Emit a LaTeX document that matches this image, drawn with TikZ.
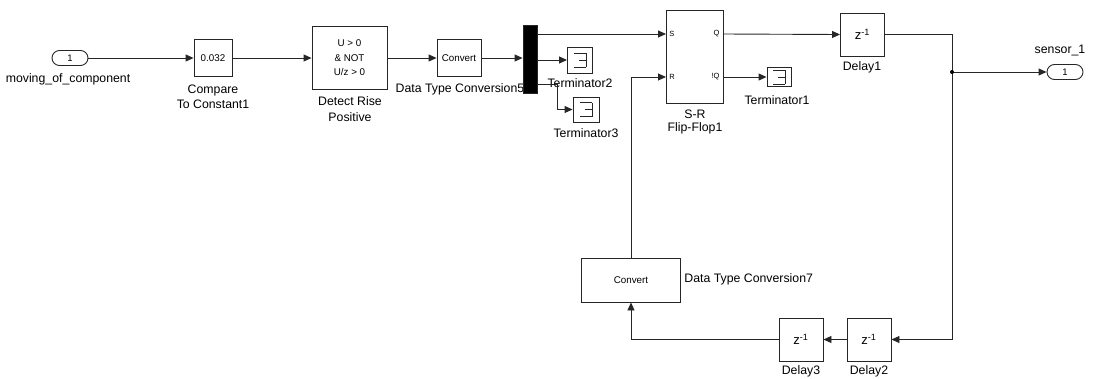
\documentclass[tikz,border=0pt]{standalone}
\usepackage{fontspec}
\setmainfont{Liberation Sans}
\usetikzlibrary{arrows.meta,shapes.misc}
\begin{document}
\begin{tikzpicture}[x=1pt,y=-1pt,
  line width=0.9pt,
  wire/.style={draw=black!85},
  arr/.style={wire,-{Triangle[length=8pt,width=7pt]}},
  blk/.style={draw=black!85,rectangle,inner sep=0pt,font=\fontsize{9.8}{11}\selectfont},
  port/.style={draw=black!85,rounded rectangle,inner sep=0pt,minimum width=36pt,minimum height=15pt,font=\fontsize{9.5}{10}\selectfont},
  lbl/.style={inner sep=0pt,font=\fontsize{12.3}{15}\selectfont,align=center},
  plbl/.style={inner sep=0pt,font=\fontsize{7.5}{8}\selectfont},
  term/.style={blk,path picture={
     \draw[line width=0.8pt] ([xshift=6pt,yshift=7pt]path picture bounding box.center) -- ([xshift=6pt,yshift=-7pt]path picture bounding box.center);
     \draw[line width=0.8pt] ([xshift=-6pt,yshift=7pt]path picture bounding box.center) -- ([xshift=6pt,yshift=7pt]path picture bounding box.center);
     \draw[line width=0.8pt] ([xshift=-1pt,yshift=0pt]path picture bounding box.center) -- ([xshift=6pt,yshift=0pt]path picture bounding box.center);
     \draw[line width=0.8pt] ([xshift=-6pt,yshift=-7pt]path picture bounding box.center) -- ([xshift=6pt,yshift=-7pt]path picture bounding box.center);
  }},
  zblk/.style={blk,minimum width=44pt,minimum height=43pt,font=\fontsize{13}{14}\selectfont}
]
\useasboundingbox (0,0) rectangle (1093,378);

% blocks
\node[port] (in1) at (70,58) {1};
\node[lbl] (in1l) at (68,79) {moving\_of\_component};

\node[blk,minimum width=38pt,minimum height=37pt] (cmp) at (213,58) {0.032};
\node[lbl] (cmpl) at (213,96.5) {Compare\\To Constant1};

\node[blk,minimum width=75pt,minimum height=63pt,align=center,font=\fontsize{9.8}{14.5}\selectfont] (det) at (349.5,58) {U > 0\\\& NOT\\U/z > 0};
\node[lbl,font=\fontsize{12.3}{16}\selectfont] (detl) at (350,109) {Detect Rise\\Positive};

\node[blk,minimum width=44pt,minimum height=37pt] (cv5) at (459,58) {Convert};
\node[lbl] (cv5l) at (460,89) {Data Type Conversion5};

\node[blk,fill=black,minimum width=14pt,minimum height=68pt] (mux) at (530,59) {};

\node[term,minimum width=25pt,minimum height=26pt] (t2) at (580,60) {};
\node[lbl] (t2l) at (580,83) {Terminator2};
\node[term,minimum width=26pt,minimum height=25pt] (t3) at (586,109.5) {};
\node[lbl] (t3l) at (586,133) {Terminator3};

\node[blk,minimum width=57pt,minimum height=93pt] (sr) at (694.5,56.5) {};
\coordinate (srS) at (666,34);
\coordinate (srR) at (666,77);
\coordinate (srQ) at (723,34);
\coordinate (srNQ) at (723,77);
\node[plbl,anchor=west] (pS) at (669,34) {S};
\node[plbl,anchor=west] (pR) at (669,77) {R};
\node[plbl,anchor=east] (pQ) at (720,34) {Q};
\node[plbl,anchor=east] (pNQ) at (720,77) {!Q};
\node[lbl,font=\fontsize{12.3}{13}\selectfont] (srl) at (695,121.5) {S-R\\Flip-Flop1};

\node[term,minimum width=24pt,minimum height=19pt] (t1) at (779,77) {};
\node[lbl] (t1l) at (777,100) {Terminator1};

\node[zblk] (d1) at (862.5,34.5) {z\textsuperscript{-1}};
\node[lbl] (d1l) at (862,67) {Delay1};

\node[port] (out1) at (1065,72) {1};
\node[lbl] (out1l) at (1060,50) {sensor\_1};

\node[blk,minimum width=99pt,minimum height=44pt] (cv7) at (631,280) {Convert};
\node[lbl,anchor=west] (cv7l) at (684,279) {Data Type Conversion7};

\node[zblk] (d3) at (801,339.5) {z\textsuperscript{-1}};
\node[lbl] (d3l) at (801,371) {Delay3};
\node[zblk] (d2) at (869,339.5) {z\textsuperscript{-1}};
\node[lbl] (d2l) at (869,371) {Delay2};

\coordinate (jn) at (952,72);
\coordinate (c1) at (952,34.5);
\coordinate (c2) at (952,339.5);
\coordinate (m3) at (557,84);

% connectors
\draw[arr] (in1.east) -- (cmp.west);
\draw[arr] (cmp.east) -- (det.west);
\draw[arr] (det.east) -- (cv5.west);
\draw[arr] (cv5.east) -- (mux.west |- cv5.east);
\draw[arr] (mux.east |- srS) -- (srS);
\draw[arr] (mux.east |- t2.west) -- (t2.west);
\draw[arr] (mux.east |- m3) -- (m3) |- (t3.west);
\draw[arr] (srQ) -- (d1.west);
\draw[arr] (srNQ) -- (t1.west |- srNQ);
\draw[arr] (d1.east) -- (c1) -- (c2) -- (d2.east);
\draw[arr] (jn) -- (out1.west);
\fill (jn) circle (2pt);
\draw[arr] (d2.west) -- (d3.east);
\draw[arr] (d3.west) -| (cv7.south);
\draw[arr] (cv7.north) |- (srR);
\end{tikzpicture}
\end{document}
